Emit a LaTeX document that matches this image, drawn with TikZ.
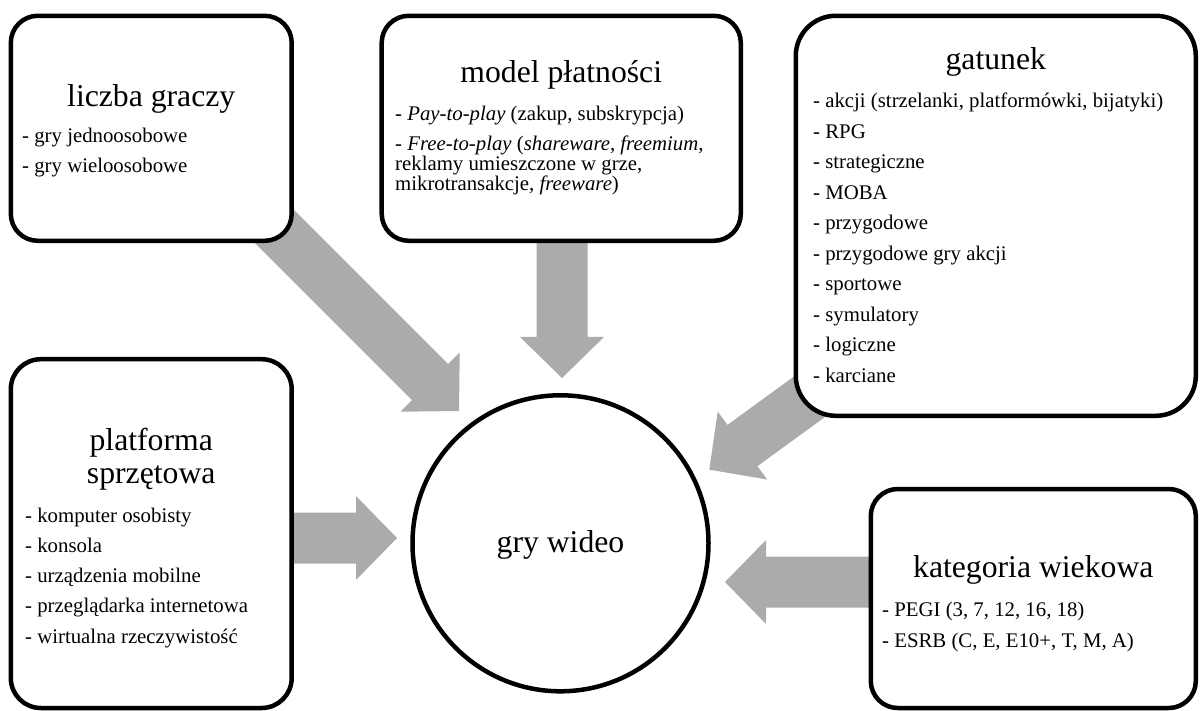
\documentclass[tikz,border=0pt]{standalone}
\usepackage{fontspec}
\setmainfont{Liberation Serif}
\usetikzlibrary{calc,backgrounds}
\definecolor{arrowgray}{RGB}{171,171,171}

% Block arrow from tail #1 to tip #2; #3 names the middle of the head base
\newcommand\shaftarrow[3]{%
  \coordinate (#3) at ($(#2)!41pt!(#1)$);
  \fill[arrowgray]
    ($(#1)!25.5pt!90:(#2)$) -- ($(#3)!25.5pt!90:(#2)$) --
    ($(#3)!42pt!90:(#2)$) -- (#2) -- ($(#3)!42pt!-90:(#2)$) --
    ($(#3)!25.5pt!-90:(#2)$) -- ($(#1)!25.5pt!-90:(#2)$) -- cycle;}

\tikzset{
  card/.style={draw=black, fill=white, line width=4.5pt, rectangle, inner sep=0pt},
  hub/.style={draw=black, fill=white, line width=4.5pt, circle, inner sep=0pt, minimum size=296pt},
  title/.style={font=\fontsize{31.7}{32}\selectfont, inner sep=0pt, anchor=base},
  item/.style={font=\fontsize{20.8}{21}\selectfont, inner sep=0pt, anchor=base west},
}

\begin{document}
\begin{tikzpicture}[x=1pt, y=-1pt]
\useasboundingbox (0,0) rectangle (1200,711);

% category cards
\node[card, minimum width=280.9pt, minimum height=225pt, rounded corners=27pt] (players) at (151.25,128.3) {};
\node[card, minimum width=359.1pt, minimum height=225pt, rounded corners=27pt] (payment) at (561.25,128.3) {};
\node[card, minimum width=400pt, minimum height=400pt, rounded corners=40pt] (genre) at (995.8,215.8) {};
\node[card, minimum width=280.9pt, minimum height=348.8pt, rounded corners=30pt] (platform) at (151.25,533.6) {};
\node[card, minimum width=325pt, minimum height=219pt, rounded corners=27pt] (age) at (1033.3,598.5) {};

% central circle
\node[hub] (games) at (560.5,543.3) {};
\node[title] (gamesT) at (560.5,552) {gry wideo};

% liczba graczy
\node[title] (playersT) at (151.25,107) {liczba graczy};
\node[item] (players1) at (22,143) {- gry jednoosobowe};
\node[item] (players2) at (22,173) {- gry wieloosobowe};

% model płatności
\node[title] (paymentT) at (561.25,83) {model płatności};
\node[item] (payment1) at (395,121) {\textit{- Pay-to-play} (zakup, subskrypcja)};
\node[item] (payment2) at (395,151) {\textit{- Free-to-play} (\textit{shareware, freemium,}};
\node[item] (payment3) at (395,171) {reklamy umieszczone w grze,};
\node[item] (payment4) at (395,191) {mikrotransakcje, \textit{freeware})};

% gatunek
\node[title] (genreT) at (995.8,70) {gatunek};
\node[item] (genre1) at (813,108) {- akcji (strzelanki, platformówki, bijatyki)};
\node[item] (genre2) at (813,138.5) {- RPG};
\node[item] (genre3) at (813,169) {- strategiczne};
\node[item] (genre4) at (813,199.5) {- MOBA};
\node[item] (genre5) at (813,230) {- przygodowe};
\node[item] (genre6) at (813,260.5) {- przygodowe gry akcji};
\node[item] (genre7) at (813,291) {- sportowe};
\node[item] (genre8) at (813,321.5) {- symulatory};
\node[item] (genre9) at (813,352) {- logiczne};
\node[item] (genre10) at (813,382.5) {- karciane};

% platforma sprzętowa
\node[title] (platformT1) at (151.25,450) {platforma};
\node[title] (platformT2) at (151.25,483) {sprzętowa};
\node[item] (platform1) at (25,522) {- komputer osobisty};
\node[item] (platform2) at (25,552.3) {- konsola};
\node[item] (platform3) at (25,582.6) {- urządzenia mobilne};
\node[item] (platform4) at (25,612.9) {- przeglądarka internetowa};
\node[item] (platform5) at (25,643.2) {- wirtualna rzeczywistość};

% kategoria wiekowa
\node[title] (ageT) at (1033.3,577) {kategoria wiekowa};
\node[item] (age1) at (882,616) {- PEGI (3, 7, 12, 16, 18)};
\node[item] (age2) at (882,647) {- ESRB (C, E, E10+, T, M, A)};

% arrow ends
\coordinate (tipPlayers) at (459,411);
\coordinate (tailPlayers) at (253,205);
\coordinate (tipPayment) at (562,378);
\coordinate (tipGenre) at (709.3,469.7);
\coordinate (tailGenre) at (904.5,327.5);
\coordinate (tipPlatform) at (397,538);
\coordinate (tipAge) at (725,582);

% gray block arrows behind the cards
\begin{pgfonlayer}{background}
  \shaftarrow{tailPlayers}{tipPlayers}{basePlayers}
  \shaftarrow{tipPayment |- payment.center}{tipPayment}{basePayment}
  \shaftarrow{tailGenre}{tipGenre}{baseGenre}
  \shaftarrow{platform.center |- tipPlatform}{tipPlatform}{basePlatform}
  \shaftarrow{age.center |- tipAge}{tipAge}{baseAge}
\end{pgfonlayer}
\end{tikzpicture}
\end{document}
